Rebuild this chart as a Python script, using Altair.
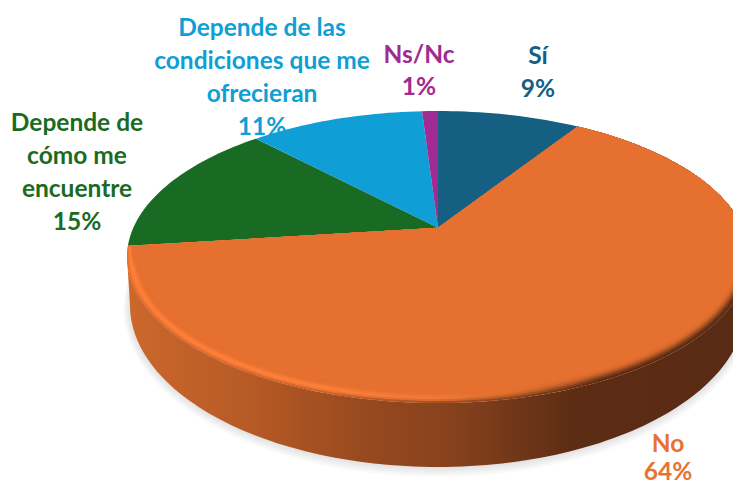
import math
import altair as alt

CATEGORIES = ["Sí", "No", "Depende de cómo me encuentre", "Depende de las condiciones que me ofrecieran", "Ns/Nc"]
VALUES = [9, 64, 15, 11, 1]
COLORS = ["#156082", "#E5702F", "#196B24", "#0F9ED5", "#A02B93"]
LABEL_LINES = [["Sí"], ["No"], ["Depende de", "cómo me", "encuentre"],
               ["Depende de las", "condiciones que me", "ofrecieran"], ["Ns/Nc"]]
LABEL_TEXT_COLORS = ["#156082", "#E97132", "#196B24", "#0F9ED5", "#A02B93"]

# pie geometry, in page pixels
CX, CY, RX, RY = 438.0, 257.0, 311.0, 146.0
APEX = 0.2
BOT_CX, BOT_CY, BOT_RX, BOT_RY = 438.0, 305.0, 308.0, 162.0
LABEL_X = [538, 668, 77, 262, 419]
LABEL_Y = [57, 445, 124, 29, 56]
LINE_STEP = [33, 28, 33, 33, 32]


def warp(theta):
    u, v = math.sin(theta), math.cos(theta)
    d = 1 + APEX * v
    return u * math.sqrt(1 - APEX ** 2) / d, (v + APEX) / d


def sector(f0, f1, inset=0.0):
    pts = [[CX, CY - RY * APEX]]
    n = max(3, int((f1 - f0) * 240))
    for i in range(n + 1):
        u, v = warp(2 * math.pi * (f0 + (f1 - f0) * i / n))
        w = min(1.0, max(0.0, (0.2 - v) / 0.3))
        pts.append([CX + (RX - inset * w) * u, CY - (RY - inset * w) * v])
    pts.append(pts[0])
    return pts


def feature(ring, **props):
    return {"type": "Feature", "properties": props,
            "geometry": {"type": "Polygon", "coordinates": [ring]}}


def grad(stops):
    return alt.Gradient(gradient="linear", x1=0, x2=1, y1=0, y2=0,
                        stops=[alt.GradientStop(color=c, offset=o) for o, c in stops])


def shape(features, **kw):
    return (alt.Chart(alt.Data(values=features))
            .mark_geoshape(clip=True, strokeWidth=0, **kw)
            .project(type="identity", scale=1, translate=[-8, -8]))


layers = []

# soft shadow
for off in (11, 9, 7, 5, 3, 1):
    ring = []
    for i in range(241):
        t = 2 * math.pi * i / 240
        ring.append([BOT_CX + (BOT_RX + off * 0.6) * math.sin(t), BOT_CY + off * 0.3 + (BOT_RY + off * 0.6) * math.cos(t)])
    layers.append(shape([feature(ring)], fill="#000000", opacity=0.018))

# side wall
wall = []
for i in range(121):
    t = math.pi * i / 120
    wall.append([CX - RX * math.cos(t), CY + RY * math.sin(t)])
for i in range(121):
    t = math.pi * i / 120
    wall.append([BOT_CX + BOT_RX * math.cos(t), BOT_CY + BOT_RY * math.sin(t)])
wall.append(wall[0])
layers.append(shape([feature(wall)], fill=grad([
    (0.0, "#CB682C"), (0.2, "#B65A25"), (0.38, "#98491F"), (0.52, "#87421D"),
    (0.64, "#6E3518"), (0.72, "#5C2C14"), (1.0, "#5A2B14")])))

# top face slices
total = sum(VALUES)
edges = [0.0]
for v in VALUES:
    edges.append(edges[-1] + v / total)
faces = [feature(sector(edges[i], edges[i + 1]), name=CATEGORIES[i]) for i in range(len(VALUES))]
layers.append(shape(faces).encode(
    color=alt.Color("properties.name:N", legend=None,
                    scale=alt.Scale(domain=CATEGORIES, range=COLORS))))

# rim of the "No" slice
RIM_OFFSETS = [0.0, 0.3, 0.5, 0.62, 0.76, 1.0]
RIMS = [
    (0, ["#E56F30", "#CF6329", "#A85122", "#8A4420", "#5A2B14", "#5A2B14"]),
    (2, ["#F97B36", "#F27735", "#D86C2E", "#B35A26", "#713618", "#6A3317"]),
    (4, ["#FF7F38", "#FF8039", "#F07A37", "#D4692C", "#95491F", "#8F461E"]),
    (6, ["#F77A34", "#F87B35", "#EE7633", "#E26E2E", "#BA5B26", "#B45825"]),
    (8, ["#EA7230", "#EB7331", "#E8712F", "#E56F2F", "#D5682B", "#D2672B"]),
    (10, ["#E5702F", "#E5702F", "#E5702F", "#E5702F", "#E16E2E", "#E06D2E"]),
]
for inset, cols in RIMS:
    layers.append(shape([feature(sector(edges[1], edges[2], inset))],
                        fill=grad(list(zip(RIM_OFFSETS, cols)))))
layers.append(shape([feature(sector(edges[1], edges[2], 12))], fill="#E5702F"))

# labels
for i, lines in enumerate(LABEL_LINES):
    rows = lines + [f"{VALUES[i]}%"]
    for j, txt in enumerate(rows):
        layers.append(alt.Chart(alt.Data(values=[{"t": txt}])).mark_text(
            font="Lato", fontWeight="bold", fontSize=24.5, color=LABEL_TEXT_COLORS[i],
            align="center", baseline="middle",
        ).encode(text="t:N", x=alt.value(LABEL_X[i] - 8), y=alt.value(LABEL_Y[i] - 8 + j * LINE_STEP[i])))

chart = alt.layer(*layers).properties(
    width=725, height=476, padding=0,
    autosize=alt.AutoSizeParams(type="none"), background="#FFFFFF",
).configure_view(stroke=None)

chart.save("out.html", embed_options={"renderer": "svg", "actions": False})
